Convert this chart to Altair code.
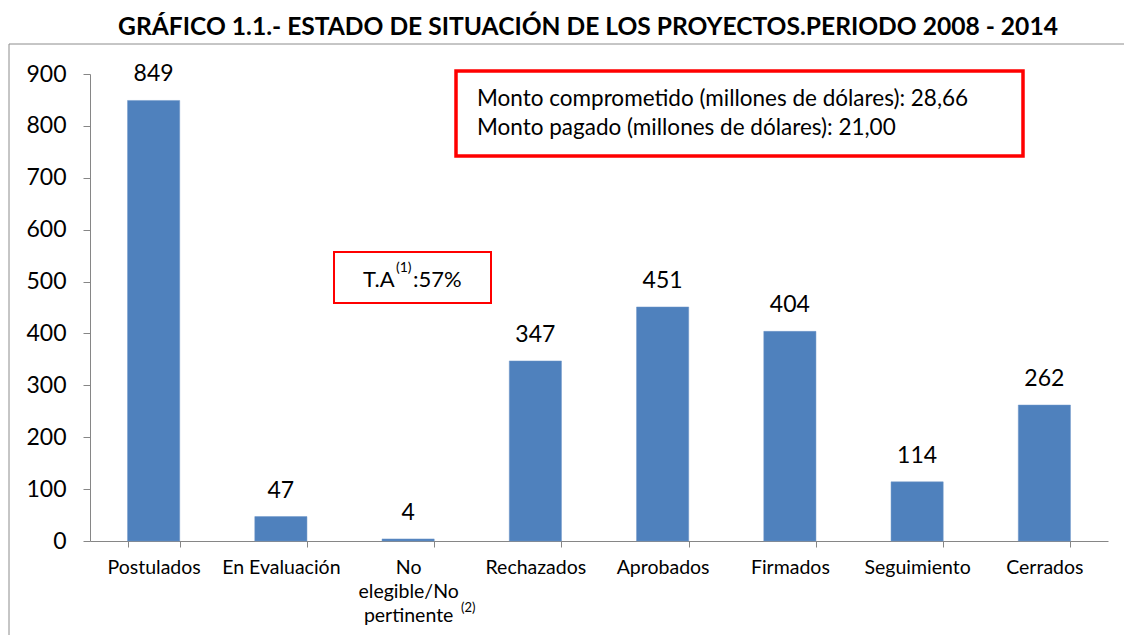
import altair as alt
import pandas as pd

categories = ["Postulados", "En Evaluación", "No\nelegible/No\npertinente", "Rechazados",
              "Aprobados", "Firmados", "Seguimiento", "Cerrados"]
values = [849, 47, 4, 347, 451, 404, 114, 262]
y_ticks = [0, 100, 200, 300, 400, 500, 600, 700, 800, 900]

title_text = "GRÁFICO 1.1.- ESTADO DE SITUACIÓN DE LOS PROYECTOS.PERIODO 2008 - 2014"
box_lines = ["Monto comprometido (millones de dólares): 28,66",
             "Monto pagado (millones de dólares): 21,00"]

df = pd.DataFrame({"cat": categories, "val": values})
FONT = "Lato"
W, H = 1018, 467

xenc = alt.X("cat:N", sort=categories, title=None,
             scale=alt.Scale(paddingInner=0.59, paddingOuter=0.295),
             axis=alt.Axis(labelAngle=0, labelFont=FONT, labelFontSize=19.5, labelColor="black",
                           labelExpr="split(datum.label, '\\n')", labelLineHeight=24,
                           domainColor="#868686", tickColor="#868686", tickSize=6,
                           tickBand="extent", labelPadding=11, labelBaseline="top"))
yenc = alt.Y("val:Q", title=None,
             scale=alt.Scale(domain=[0, 900], nice=False),
             axis=alt.Axis(values=y_ticks, grid=False, labelFont=FONT, labelFontSize=23,
                           labelColor="black", domainColor="#868686", tickColor="#868686",
                           tickSize=7, labelPadding=17))

base = alt.Chart(df)
bars = base.mark_bar(color="#4F81BD", stroke="#6f97c9", strokeWidth=0.5).encode(x=xenc, y=yenc)
labels = base.mark_text(font=FONT, fontSize=23, baseline="alphabetic", dy=-19, color="black").encode(
    x=alt.X("cat:N", sort=categories), y="val:Q", text="val:Q")

one = alt.Data(values=[{"a": 1}])

title = alt.Chart(one).mark_text(font=FONT, fontSize=24.6, fontWeight="bold", align="center",
                                 baseline="middle", color="black").encode(
    x=alt.value(W / 2 - 11), y=alt.value(-46), text=alt.value(title_text))

frame = alt.Chart(one).mark_rect(fill=None, stroke="#8c8c8c", strokeWidth=1).encode(
    x=alt.value(-81), x2=alt.value(1100), y=alt.value(-30), y2=alt.value(620))

big_box = alt.Chart(one).mark_rect(fill="white", stroke="#ff0000", strokeWidth=3.5).encode(
    x=alt.value(366), x2=alt.value(933), y=alt.value(-3), y2=alt.value(82))
box_t1 = alt.Chart(one).mark_text(font=FONT, fontSize=22.5, align="left", baseline="middle", color="black").encode(
    x=alt.value(387), y=alt.value(25), text=alt.value(box_lines[0]))
box_t2 = alt.Chart(one).mark_text(font=FONT, fontSize=22.5, align="left", baseline="middle", color="black").encode(
    x=alt.value(387), y=alt.value(54), text=alt.value(box_lines[1]))

small_box = alt.Chart(one).mark_rect(fill="white", stroke="#ff0000", strokeWidth=2).encode(
    x=alt.value(244), x2=alt.value(401), y=alt.value(178), y2=alt.value(229))
ta1 = alt.Chart(one).mark_text(font=FONT, fontSize=22, align="left", baseline="middle", color="black").encode(
    x=alt.value(273), y=alt.value(206), text=alt.value("T.A"))
ta2 = alt.Chart(one).mark_text(font=FONT, fontSize=14, align="left", baseline="middle", color="black").encode(
    x=alt.value(306), y=alt.value(194), text=alt.value("(1)"))
ta3 = alt.Chart(one).mark_text(font=FONT, fontSize=22, align="left", baseline="middle", color="black").encode(
    x=alt.value(323), y=alt.value(206), text=alt.value(":57%"))

sup2 = alt.Chart(one).mark_text(font=FONT, fontSize=13, align="left", baseline="middle", color="black").encode(
    x=alt.value(371), y=alt.value(67 + H), text=alt.value("(2)"))

chart = alt.layer(frame, title, bars, labels, big_box, box_t1, box_t2, small_box, ta1, ta2, ta3, sup2).properties(
    width=W, height=H,
    autosize=alt.AutoSizeParams(type="none"),
    padding={"left": 82, "top": 66, "right": 16, "bottom": 94},
).configure_view(stroke=None)

chart.save("out.html", embed_options={"renderer": "svg", "actions": False})
